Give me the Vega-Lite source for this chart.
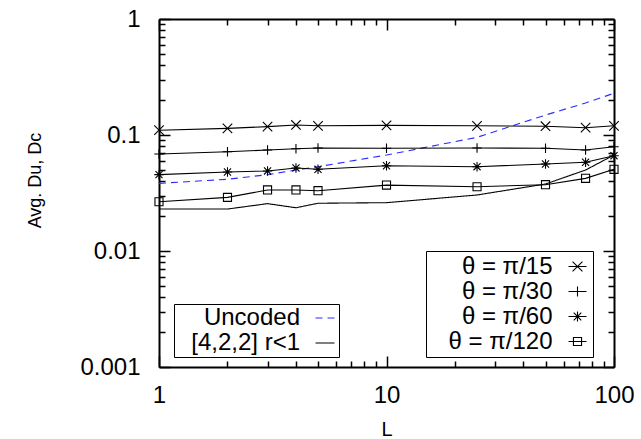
{
  "$schema": "https://vega.github.io/schema/vega-lite/v6.json",
  "autosize": {"type": "none"},
  "padding": {"left": 159, "top": 19, "right": 27, "bottom": 72},
  "width": 455,
  "height": 348,
  "background": "white",
  "config": {
    "view": {"stroke": null},
    "font": "Liberation Sans",
    "axis": {
      "grid": false,
      "domainColor": "black",
      "domainWidth": 2,
      "tickColor": "black",
      "tickWidth": 1.5,
      "labelFont": "Liberation Sans",
      "labelFontSize": 24,
      "labelColor": "black",
      "labelOverlap": false,
      "labelFlush": false,
      "titleFont": "Liberation Sans",
      "titleFontWeight": "normal",
      "titleColor": "black"
    }
  },
  "data": {
    "values": [
      {"L": 1, "v": 0.110, "s": "θ = π/15"},
      {"L": 2, "v": 0.114, "s": "θ = π/15"},
      {"L": 3, "v": 0.118, "s": "θ = π/15"},
      {"L": 4, "v": 0.122, "s": "θ = π/15"},
      {"L": 5, "v": 0.120, "s": "θ = π/15"},
      {"L": 10, "v": 0.121, "s": "θ = π/15"},
      {"L": 25, "v": 0.120, "s": "θ = π/15"},
      {"L": 50, "v": 0.119, "s": "θ = π/15"},
      {"L": 75, "v": 0.1156, "s": "θ = π/15"},
      {"L": 100, "v": 0.120, "s": "θ = π/15"},
      {"L": 1, "v": 0.0686, "s": "θ = π/30"},
      {"L": 2, "v": 0.0718, "s": "θ = π/30"},
      {"L": 3, "v": 0.0742, "s": "θ = π/30"},
      {"L": 4, "v": 0.0762, "s": "θ = π/30"},
      {"L": 5, "v": 0.0773, "s": "θ = π/30"},
      {"L": 10, "v": 0.0768, "s": "θ = π/30"},
      {"L": 25, "v": 0.0773, "s": "θ = π/30"},
      {"L": 50, "v": 0.0768, "s": "θ = π/30"},
      {"L": 75, "v": 0.0742, "s": "θ = π/30"},
      {"L": 100, "v": 0.0793, "s": "θ = π/30"},
      {"L": 1, "v": 0.0455, "s": "θ = π/60"},
      {"L": 2, "v": 0.0480, "s": "θ = π/60"},
      {"L": 3, "v": 0.0490, "s": "θ = π/60"},
      {"L": 4, "v": 0.0520, "s": "θ = π/60"},
      {"L": 5, "v": 0.0506, "s": "θ = π/60"},
      {"L": 10, "v": 0.0543, "s": "θ = π/60"},
      {"L": 25, "v": 0.0533, "s": "θ = π/60"},
      {"L": 50, "v": 0.0562, "s": "θ = π/60"},
      {"L": 75, "v": 0.0582, "s": "θ = π/60"},
      {"L": 100, "v": 0.0663, "s": "θ = π/60"},
      {"L": 1, "v": 0.0266, "s": "θ = π/120"},
      {"L": 2, "v": 0.0290, "s": "θ = π/120"},
      {"L": 3, "v": 0.0336, "s": "θ = π/120"},
      {"L": 4, "v": 0.0336, "s": "θ = π/120"},
      {"L": 5, "v": 0.0331, "s": "θ = π/120"},
      {"L": 10, "v": 0.0370, "s": "θ = π/120"},
      {"L": 25, "v": 0.0358, "s": "θ = π/120"},
      {"L": 50, "v": 0.0373, "s": "θ = π/120"},
      {"L": 75, "v": 0.0423, "s": "θ = π/120"},
      {"L": 100, "v": 0.0506, "s": "θ = π/120"},
      {"L": 1, "v": 0.0230, "s": "[4,2,2] r<1"},
      {"L": 2, "v": 0.0230, "s": "[4,2,2] r<1"},
      {"L": 3, "v": 0.0256, "s": "[4,2,2] r<1"},
      {"L": 4, "v": 0.0236, "s": "[4,2,2] r<1"},
      {"L": 5, "v": 0.0258, "s": "[4,2,2] r<1"},
      {"L": 10, "v": 0.0261, "s": "[4,2,2] r<1"},
      {"L": 25, "v": 0.0304, "s": "[4,2,2] r<1"},
      {"L": 50, "v": 0.0378, "s": "[4,2,2] r<1"},
      {"L": 75, "v": 0.0499, "s": "[4,2,2] r<1"},
      {"L": 100, "v": 0.0672, "s": "[4,2,2] r<1"},
      {"L": 1, "v": 0.0383, "s": "Uncoded"},
      {"L": 2, "v": 0.0415, "s": "Uncoded"},
      {"L": 3, "v": 0.0455, "s": "Uncoded"},
      {"L": 4, "v": 0.0499, "s": "Uncoded"},
      {"L": 5, "v": 0.0533, "s": "Uncoded"},
      {"L": 10, "v": 0.0672, "s": "Uncoded"},
      {"L": 25, "v": 0.0955, "s": "Uncoded"},
      {"L": 50, "v": 0.1486, "s": "Uncoded"},
      {"L": 75, "v": 0.189, "s": "Uncoded"},
      {"L": 100, "v": 0.229, "s": "Uncoded"}
    ]
  },
  "layer": [
    {
      "transform": [{"filter": "datum.s === 'Uncoded' || datum.s === '[4,2,2] r<1'"}],
      "mark": {"type": "line", "strokeWidth": 1.1},
      "encoding": {
        "x": {
          "field": "L", "type": "quantitative",
          "scale": {"type": "log", "domain": [1, 100], "nice": false},
          "axis": {
            "orient": "bottom",
            "title": "L",
            "titleFontSize": 20,
            "titleY": 68,
            "titleBaseline": "alphabetic",
            "values": [1, 2, 3, 4, 5, 6, 7, 8, 9, 10, 20, 30, 40, 50, 60, 70, 80, 90, 100],
            "format": "~g",
            "labelExpr": "abs(log(datum.value)/LN10 - round(log(datum.value)/LN10)) < 0.001 ? datum.label : ''",
            "tickSize": {"condition": {"test": "abs(log(datum.value)/LN10 - round(log(datum.value)/LN10)) < 0.001", "value": -11}, "value": -6},
            "labelPadding": 27
          }
        },
        "y": {
          "field": "v", "type": "quantitative",
          "scale": {"type": "log", "domain": [0.001, 1], "nice": false},
          "axis": {
            "orient": "left",
            "title": "Avg. Du, Dc",
            "titleFontSize": 18,
            "titleX": -119,
            "titleY": 161,
            "titleAngle": 270,
            "titleAlign": "center",
            "titleBaseline": "alphabetic",
            "values": [0.001, 0.002, 0.003, 0.004, 0.005, 0.006, 0.007, 0.008, 0.009, 0.01, 0.02, 0.03, 0.04, 0.05, 0.06, 0.07, 0.08, 0.09, 0.1, 0.2, 0.3, 0.4, 0.5, 0.6, 0.7, 0.8, 0.9, 1],
            "format": "~g",
            "labelExpr": "abs(log(datum.value)/LN10 - round(log(datum.value)/LN10)) < 0.001 ? datum.label : ''",
            "tickSize": {"condition": {"test": "abs(log(datum.value)/LN10 - round(log(datum.value)/LN10)) < 0.001", "value": -11}, "value": -6},
            "labelPadding": 30
          }
        },
        "color": {
          "field": "s", "type": "nominal",
          "scale": {"domain": ["Uncoded", "[4,2,2] r<1"], "range": ["#2b2bff", "#000000"]},
          "legend": {
            "title": null, "orient": "none", "legendX": 15, "legendY": 285,
            "padding": 2, "rowPadding": 1, "strokeColor": "black",
            "labelFont": "Liberation Sans", "labelFontSize": 24, "labelColor": "black", "labelLimit": 300,
            "labelAlign": "right", "labelOffset": -37, "symbolOffset": 137,
            "symbolSize": 361, "symbolStrokeWidth": 1.1
          }
        },
        "strokeDash": {
          "field": "s", "type": "nominal",
          "scale": {"domain": ["Uncoded", "[4,2,2] r<1"], "range": [[7, 5], [1, 0]]},
          "legend": {
            "title": null, "orient": "none", "legendX": 15, "legendY": 285,
            "padding": 2, "rowPadding": 1, "strokeColor": "black",
            "labelFont": "Liberation Sans", "labelFontSize": 24, "labelColor": "black", "labelLimit": 300,
            "labelAlign": "right", "labelOffset": -37, "symbolOffset": 137,
            "symbolSize": 361, "symbolStrokeWidth": 1.1
          }
        }
      }
    },
    {
      "transform": [{"filter": "indexof(datum.s, 'θ') === 0"}],
      "mark": {"type": "line", "strokeWidth": 1.1, "color": "black"},
      "encoding": {
        "x": {"field": "L", "type": "quantitative", "scale": {"type": "log", "domain": [1, 100], "nice": false}, "axis": null},
        "y": {"field": "v", "type": "quantitative", "scale": {"type": "log", "domain": [0.001, 1], "nice": false}, "axis": null},
        "detail": {"field": "s", "type": "nominal"}
      }
    },
    {
      "transform": [{"filter": "indexof(datum.s, 'θ') === 0"}],
      "mark": {"type": "point", "filled": false, "color": "black", "size": 90, "strokeWidth": 1.1, "opacity": 1},
      "encoding": {
        "x": {"field": "L", "type": "quantitative", "scale": {"type": "log", "domain": [1, 100], "nice": false}, "axis": null},
        "y": {"field": "v", "type": "quantitative", "scale": {"type": "log", "domain": [0.001, 1], "nice": false}, "axis": null},
        "shape": {
          "field": "s", "type": "nominal",
          "scale": {
            "domain": ["θ = π/15", "θ = π/30", "θ = π/60", "θ = π/120"],
            "range": [
              "M-1,-1L1,1M-1,1L1,-1",
              "M-1,0H1M0,-1V1",
              "M-1,0H1M0,-1V1M-0.75,-0.75L0.75,0.75M-0.75,0.75L0.75,-0.75",
              "M-0.85,-0.85H0.85V0.85H-0.85Z"
            ]
          },
          "legend": null
        }
      }
    },
    {
      "transform": [{"filter": "indexof(datum.s, 'θ') === 0"}],
      "mark": {"type": "point", "filled": false, "color": "black", "size": 324, "strokeWidth": 1.1, "opacity": 0},
      "encoding": {
        "x": {"field": "L", "type": "quantitative", "scale": {"type": "log", "domain": [1, 100], "nice": false}, "axis": null},
        "y": {"field": "v", "type": "quantitative", "scale": {"type": "log", "domain": [0.001, 1], "nice": false}, "axis": null},
        "shape": {
          "field": "s", "type": "nominal",
          "scale": {
            "domain": ["θ = π/15", "θ = π/30", "θ = π/60", "θ = π/120"],
            "range": [
              "M-1,0H1M-0.55,-0.55L0.55,0.55M-0.55,0.55L0.55,-0.55",
              "M-1,0H1M0,-0.55V0.55",
              "M-1,0H1M0,-0.55V0.55M-0.42,-0.42L0.42,0.42M-0.42,0.42L0.42,-0.42",
              "M-1,0H1M-0.45,-0.45H0.45V0.45H-0.45Z"
            ]
          },
          "legend": {
            "title": null, "orient": "none", "legendX": 267, "legendY": 232,
            "padding": 3.5, "rowPadding": 1, "strokeColor": "black",
            "labelFont": "Liberation Sans", "labelFontSize": 24, "labelColor": "black", "labelLimit": 300,
            "labelAlign": "right", "labelOffset": -37, "symbolOffset": 136,
            "symbolSize": 324, "symbolStrokeWidth": 1.1, "symbolStrokeColor": "black", "symbolOpacity": 1
          }
        }
      }
    },
    {
      "mark": {"type": "point", "opacity": 0},
      "encoding": {
        "x": {
          "field": "L", "type": "quantitative",
          "scale": {"type": "log", "domain": [1, 100], "nice": false},
          "axis": {
            "orient": "top", "title": null, "labels": false,
            "values": [1, 2, 3, 4, 5, 6, 7, 8, 9, 10, 20, 30, 40, 50, 60, 70, 80, 90, 100],
            "tickSize": {"condition": {"test": "abs(log(datum.value)/LN10 - round(log(datum.value)/LN10)) < 0.001", "value": -11}, "value": -6}
          }
        },
        "y": {
          "field": "v", "type": "quantitative",
          "scale": {"type": "log", "domain": [0.001, 1], "nice": false},
          "axis": {
            "orient": "right", "title": null, "labels": false,
            "values": [0.001, 0.002, 0.003, 0.004, 0.005, 0.006, 0.007, 0.008, 0.009, 0.01, 0.02, 0.03, 0.04, 0.05, 0.06, 0.07, 0.08, 0.09, 0.1, 0.2, 0.3, 0.4, 0.5, 0.6, 0.7, 0.8, 0.9, 1],
            "tickSize": {"condition": {"test": "abs(log(datum.value)/LN10 - round(log(datum.value)/LN10)) < 0.001", "value": -11}, "value": -6}
          }
        }
      }
    }
  ],
  "resolve": {"scale": {"shape": "independent"}, "axis": {"x": "independent", "y": "independent"}}
}
